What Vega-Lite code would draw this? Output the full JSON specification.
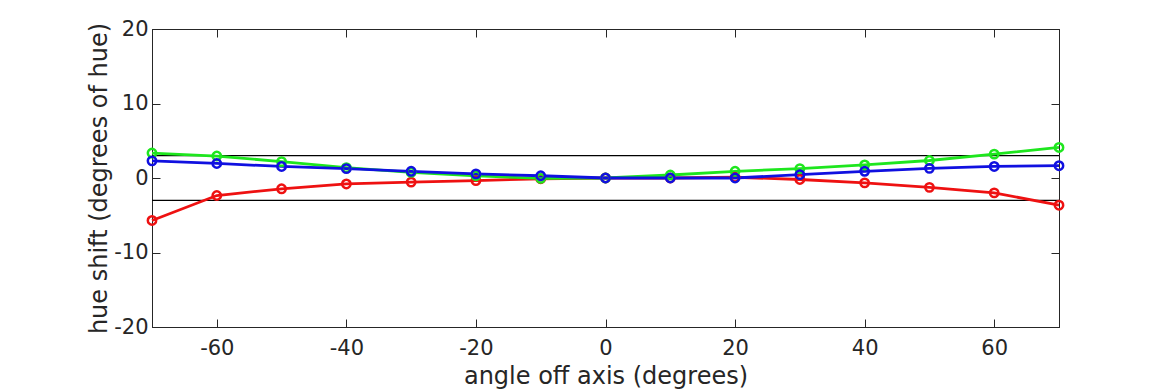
{
  "$schema": "https://vega.github.io/schema/vega-lite/v6.json",
  "width": 907,
  "height": 298,
  "autosize": "none",
  "padding": {"left": 152, "top": 29, "right": 111, "bottom": 63},
  "background": "white",
  "config": {
    "view": {"stroke": "#262626", "strokeWidth": 1},
    "axis": {
      "grid": false,
      "labelFont": "DejaVu Sans",
      "titleFont": "DejaVu Sans",
      "labelFontSize": 21,
      "titleFontSize": 24,
      "titleFontWeight": "normal",
      "labelColor": "#262626",
      "titleColor": "#262626",
      "tickColor": "#262626",
      "domainColor": "#262626",
      "tickSize": -8,
      "tickWidth": 1,
      "domainWidth": 1,
      "labelExpr": "'' + datum.value"
    }
  },
  "datasets": {
    "lim": [{"y": 3}, {"y": -3}],
    "hue": [
      {"angle": -70, "series": "red", "shift": -5.7},
      {"angle": -60, "series": "red", "shift": -2.35},
      {"angle": -50, "series": "red", "shift": -1.45},
      {"angle": -40, "series": "red", "shift": -0.8},
      {"angle": -30, "series": "red", "shift": -0.55},
      {"angle": -20, "series": "red", "shift": -0.35},
      {"angle": -10, "series": "red", "shift": -0.1},
      {"angle": 0, "series": "red", "shift": 0},
      {"angle": 10, "series": "red", "shift": 0},
      {"angle": 20, "series": "red", "shift": 0.1},
      {"angle": 30, "series": "red", "shift": -0.2},
      {"angle": 40, "series": "red", "shift": -0.65},
      {"angle": 50, "series": "red", "shift": -1.25},
      {"angle": 60, "series": "red", "shift": -2.0},
      {"angle": 70, "series": "red", "shift": -3.65},
      {"angle": -70, "series": "green", "shift": 3.35},
      {"angle": -60, "series": "green", "shift": 2.95},
      {"angle": -50, "series": "green", "shift": 2.2},
      {"angle": -40, "series": "green", "shift": 1.4},
      {"angle": -30, "series": "green", "shift": 0.75},
      {"angle": -20, "series": "green", "shift": 0.3},
      {"angle": -10, "series": "green", "shift": -0.05},
      {"angle": 0, "series": "green", "shift": 0},
      {"angle": 10, "series": "green", "shift": 0.4},
      {"angle": 20, "series": "green", "shift": 0.9},
      {"angle": 30, "series": "green", "shift": 1.25},
      {"angle": 40, "series": "green", "shift": 1.75},
      {"angle": 50, "series": "green", "shift": 2.35},
      {"angle": 60, "series": "green", "shift": 3.2},
      {"angle": 70, "series": "green", "shift": 4.1},
      {"angle": -70, "series": "blue", "shift": 2.3},
      {"angle": -60, "series": "blue", "shift": 1.95},
      {"angle": -50, "series": "blue", "shift": 1.55},
      {"angle": -40, "series": "blue", "shift": 1.25},
      {"angle": -30, "series": "blue", "shift": 0.9},
      {"angle": -20, "series": "blue", "shift": 0.55},
      {"angle": -10, "series": "blue", "shift": 0.3},
      {"angle": 0, "series": "blue", "shift": 0},
      {"angle": 10, "series": "blue", "shift": 0},
      {"angle": 20, "series": "blue", "shift": 0},
      {"angle": 30, "series": "blue", "shift": 0.45},
      {"angle": 40, "series": "blue", "shift": 0.9},
      {"angle": 50, "series": "blue", "shift": 1.3},
      {"angle": 60, "series": "blue", "shift": 1.55},
      {"angle": 70, "series": "blue", "shift": 1.65}
    ]
  },
  "resolve": {"axis": {"x": "independent", "y": "independent"}},
  "layer": [
    {
      "data": {"name": "lim"},
      "mark": {"type": "rule", "color": "#000000", "strokeWidth": 1.2},
      "encoding": {
        "y": {
          "field": "y", "type": "quantitative",
          "scale": {"domain": [-20, 20], "nice": false},
          "axis": {"orient": "left", "values": [-20, -10, 0, 10, 20], "title": "hue shift (degrees of hue)", "labelPadding": 12, "titlePadding": 2}
        }
      }
    },
    {
      "data": {"name": "hue"},
      "mark": {"type": "line", "strokeWidth": 2.8, "point": {"filled": false, "size": 70, "strokeWidth": 2.5}},
      "encoding": {
        "x": {
          "field": "angle", "type": "quantitative",
          "scale": {"domain": [-70, 70], "nice": false, "zero": false},
          "axis": {"orient": "bottom", "values": [-60, -40, -20, 0, 20, 40, 60], "title": "angle off axis (degrees)", "labelPadding": 18, "titlePadding": 6}
        },
        "y": {"field": "shift", "type": "quantitative", "scale": {"domain": [-20, 20], "nice": false}, "axis": null},
        "color": {
          "field": "series", "type": "nominal",
          "scale": {"domain": ["red", "green", "blue"], "range": ["#ee1111", "#1ee61e", "#1010e0"]},
          "legend": null
        }
      }
    },
    {
      "data": {"name": "lim"},
      "mark": {"type": "rule", "opacity": 0},
      "encoding": {
        "x": {
          "datum": 0, "type": "quantitative",
          "scale": {"domain": [-70, 70], "nice": false, "zero": false},
          "axis": {"orient": "top", "values": [-60, -40, -20, 0, 20, 40, 60], "labels": false, "title": null}
        },
        "y": {
          "field": "y", "type": "quantitative",
          "scale": {"domain": [-20, 20], "nice": false},
          "axis": {"orient": "right", "values": [-20, -10, 0, 10, 20], "labels": false, "title": null}
        }
      }
    }
  ]
}
